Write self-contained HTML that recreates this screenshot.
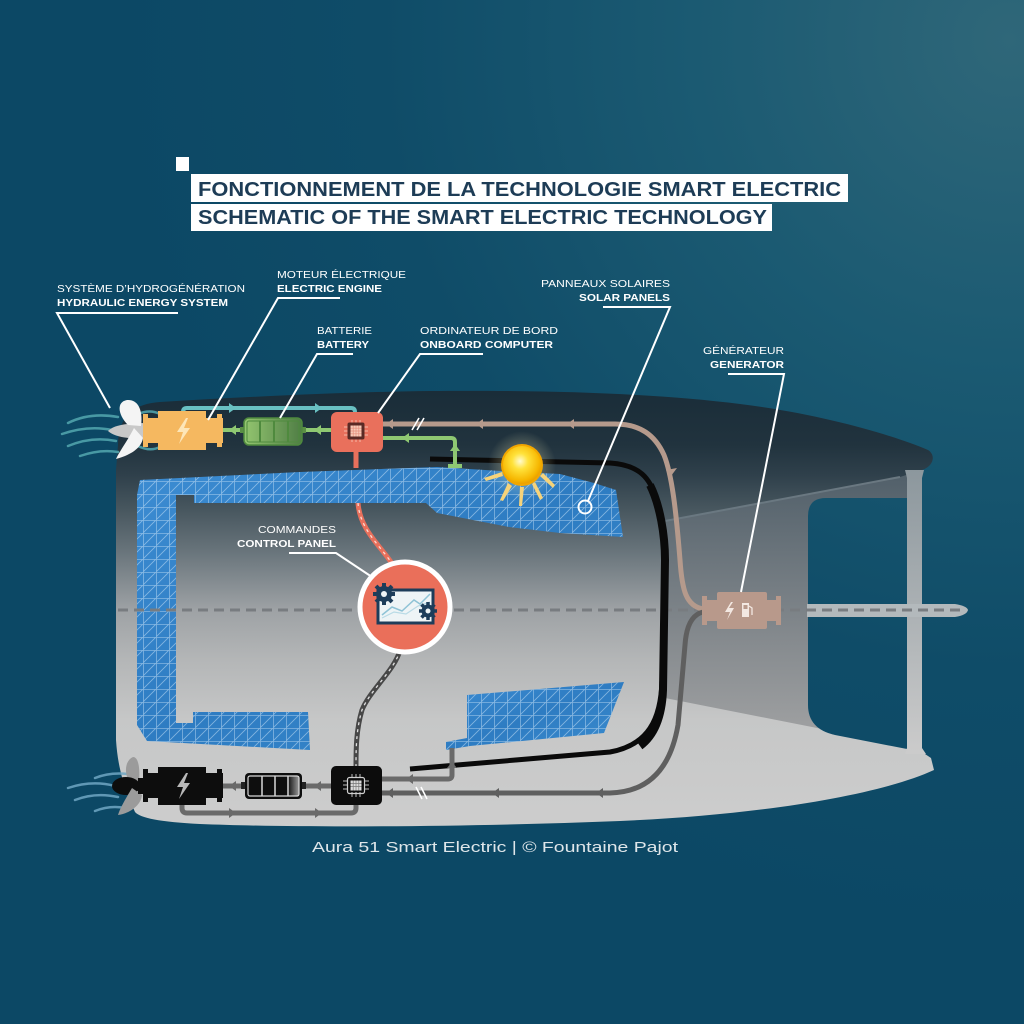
<!DOCTYPE html>
<html><head><meta charset="utf-8"><style>html,body{margin:0;padding:0;background:#0e4a66}svg{display:block}</style></head>
<body>
<svg width="1024" height="1024" viewBox="0 0 1024 1024" xmlns="http://www.w3.org/2000/svg" font-family="'Liberation Sans', sans-serif">
<defs>
<radialGradient id="bg" gradientUnits="userSpaceOnUse" cx="1010" cy="40" r="900">
 <stop offset="0" stop-color="#2f6779"/>
 <stop offset="0.35" stop-color="#1b5a72"/>
 <stop offset="0.7" stop-color="#0f4c68"/>
 <stop offset="1" stop-color="#0c4865"/>
</radialGradient>
<linearGradient id="hull" gradientUnits="userSpaceOnUse" x1="0" y1="393" x2="0" y2="830">
 <stop offset="0" stop-color="#1a2d39"/>
 <stop offset="0.119" stop-color="#21333e"/>
 <stop offset="0.188" stop-color="#2f404b"/>
 <stop offset="0.268" stop-color="#48575f"/>
 <stop offset="0.359" stop-color="#67737a"/>
 <stop offset="0.497" stop-color="#9ea2a5"/>
 <stop offset="0.611" stop-color="#b4b6b7"/>
 <stop offset="0.748" stop-color="#c6c7c7"/>
 <stop offset="1" stop-color="#cdcdcd"/>
</linearGradient>
<linearGradient id="side" gradientUnits="userSpaceOnUse" x1="0" y1="480" x2="0" y2="745">
 <stop offset="0" stop-color="#53616b"/>
 <stop offset="0.6" stop-color="#858a8e"/>
 <stop offset="1" stop-color="#a2a3a4"/>
</linearGradient>
<linearGradient id="pole" gradientUnits="userSpaceOnUse" x1="0" y1="470" x2="0" y2="752">
 <stop offset="0" stop-color="#8c979d"/>
 <stop offset="1" stop-color="#cbcbcb"/>
</linearGradient>
<linearGradient id="blue" x1="0" y1="0" x2="1" y2="1">
 <stop offset="0" stop-color="#3c8cd2"/>
 <stop offset="0.5" stop-color="#2e7cc2"/>
 <stop offset="1" stop-color="#3a8ccf"/>
</linearGradient>
<pattern id="grid" width="13" height="13" patternUnits="userSpaceOnUse">
 <path d="M0 0.4H13 M0.4 0V13 M0 13L13 0" stroke="#d8ecfb" stroke-opacity="0.5" stroke-width="0.8" fill="none"/>
</pattern>
<radialGradient id="sun" cx="0.45" cy="0.4" r="0.6">
 <stop offset="0" stop-color="#fffbd0"/>
 <stop offset="0.35" stop-color="#ffe23a"/>
 <stop offset="0.85" stop-color="#f6b600"/>
 <stop offset="1" stop-color="#eaa000"/>
</radialGradient>
<radialGradient id="glow">
 <stop offset="0" stop-color="#fff8c0" stop-opacity="0.5"/>
 <stop offset="1" stop-color="#fff8c0" stop-opacity="0"/>
</radialGradient>
<linearGradient id="batG" x1="0" y1="0" x2="1" y2="0">
 <stop offset="0" stop-color="#94c670"/>
 <stop offset="1" stop-color="#4f7d45"/>
</linearGradient>
<linearGradient id="batK" x1="0" y1="0" x2="1" y2="0">
 <stop offset="0" stop-color="#111"/>
 <stop offset="1" stop-color="#9a9a9a"/>
</linearGradient>
</defs>

<!-- background -->
<rect width="1024" height="1024" fill="url(#bg)"/>

<!-- title -->
<rect x="176" y="157" width="13" height="14" fill="#ffffff"/>
<rect x="191" y="174" width="657" height="28" fill="#ffffff"/>
<rect x="191" y="204" width="581" height="27" fill="#ffffff"/>
<text x="198" y="196" font-size="20" font-weight="bold" fill="#1d3c56" textLength="643" lengthAdjust="spacingAndGlyphs">FONCTIONNEMENT DE LA TECHNOLOGIE SMART ELECTRIC</text>
<text x="198" y="224" font-size="20" font-weight="bold" fill="#1d3c56" textLength="569" lengthAdjust="spacingAndGlyphs">SCHEMATIC OF THE SMART ELECTRIC TECHNOLOGY</text>

<!-- hull -->
<path d="M118 445 C118 420 130 404 160 402 C260 396 350 392 430 391 C560 390 660 394 740 404 C820 414 890 434 928 450 C936 455 934 466 922 470 L922 752 L931 758 L934 770 C880 795 760 815 620 821 C470 827 300 828 200 824 C160 822 140 818 135 812 C125 790 118 770 116 740 L116 470 Z" fill="url(#hull)"/>
<!-- side panel -->
<path d="M665 521 L900 477 L922 470 L922 752 L898 744 L665 698 Z" fill="url(#side)"/>
<path d="M665 521 L900 477" stroke="#6a7881" stroke-width="2" fill="none"/>
<!-- window -->
<path d="M808 516 Q808 498 826 498 L907 498 L907 749 L835 735 Q808 729 808 705 Z" fill="url(#bg)"/>
<!-- pole -->
<path d="M905 470 L924 470 L922 478 L922 748 L926 754 L905 754 L907 748 L907 478 Z" fill="url(#pole)"/>
<!-- beam -->
<path d="M807 604 L955 604 Q967 606 968 610 Q967 615 955 617 L807 617 Z" fill="#b3b9bc"/>

<!-- solar panels -->
<g>
<path d="M140 480 L300 472 L437 467 L501 471 L560 474 L594 483 L616 490 L623 537 L560 533 L509 527 L437 513 L426 503 L194 503 L194 495 L176 495 L176 723 L193 723 L193 712 L308 712 L310 750 L147 741 L137 725 L137 495 Z" fill="url(#blue)"/>
<path d="M140 480 L300 472 L437 467 L501 471 L560 474 L594 483 L616 490 L623 537 L560 533 L509 527 L437 513 L426 503 L194 503 L194 495 L176 495 L176 723 L193 723 L193 712 L308 712 L310 750 L147 741 L137 725 L137 495 Z" fill="url(#grid)"/>
<path d="M467 695 L624 682 L604 733 L470 746 L446 750 L446 742 L467 738 Z" fill="url(#blue)"/>
<path d="M467 695 L624 682 L604 733 L470 746 L446 750 L446 742 L467 738 Z" fill="url(#grid)"/>
</g>

<!-- dashed centre line -->
<path d="M118 610 H966" stroke="#787c80" stroke-width="3" stroke-dasharray="10 6" fill="none"/>

<!-- black inner line -->
<path d="M430 459 L610 463 C640 465 650 478 657 500 C663 520 664 540 664 560 L662 680 C661 720 648 745 610 752 L410 769" stroke="#0a0a0a" stroke-width="5" fill="none"/>
<path d="M650 485 C660 505 665 535 665 560 L663 690 C662 715 655 735 640 746" stroke="#0a0a0a" stroke-width="8" fill="none"/>

<!-- beige generator cable -->
<path d="M382 424 H615 C640 424 655 435 664 455 C672 475 676 510 680 560 C682 590 686 606 703 609" stroke="#b59a8c" stroke-width="5" fill="none"/>
<polygon points="386,424 393,419 393,429" fill="#b59a8c"/>
<polygon points="476,424 483,419 483,429" fill="#b59a8c"/>
<polygon points="567,424 574,419 574,429" fill="#b59a8c"/>
<polygon points="666,470 671,476 677,468" fill="#b59a8c"/>
<path d="M412 430 L419 418 M417 430 L424 418" stroke="#ffffff" stroke-width="1.6"/>

<!-- dark grey generator cable -->
<path d="M703 612 C690 615 686 630 685 645 L678 725 C672 760 655 792 610 793 L382 793" stroke="#5f5f5f" stroke-width="5" fill="none"/>
<polygon points="386,793 393,788 393,798" fill="#5f5f5f"/>
<polygon points="492,793 499,788 499,798" fill="#5f5f5f"/>
<polygon points="596,793 603,788 603,798" fill="#5f5f5f"/>
<path d="M416 787 L422 799 M421 787 L427 799" stroke="#ffffff" stroke-width="1.6"/>

<!-- bottom grey lines -->
<path d="M220 786 H245 M302 786 H331" stroke="#6a6a6a" stroke-width="5" fill="none"/>
<polygon points="229,786 236,781 236,791" fill="#6a6a6a"/>
<polygon points="314,786 321,781 321,791" fill="#6a6a6a"/>
<path d="M182 803 V808 Q182 813 187 813 H351 Q356 813 356 808 V805" stroke="#6a6a6a" stroke-width="5" fill="none"/>
<polygon points="236,813 229,808 229,818" fill="#6a6a6a"/>
<polygon points="322,813 315,808 315,818" fill="#6a6a6a"/>
<path d="M382 779 H448 Q452 779 452 775 V748" stroke="#6a6a6a" stroke-width="5" fill="none"/>
<polygon points="406,779 413,774 413,784" fill="#6a6a6a"/>
<polygon points="452,762 447,768 457,768" fill="#6a6a6a"/>

<!-- teal line -->
<path d="M183 412 V412 Q183 408 187 408 H351 Q355 408 355 412" stroke="#69c0c2" stroke-width="4" fill="none"/>
<polygon points="236,408 229,403 229,413" fill="#69c0c2"/>
<polygon points="322,408 315,403 315,413" fill="#69c0c2"/>

<!-- green lines -->
<path d="M220 430 H245 M301 430 H332" stroke="#8fc872" stroke-width="4" fill="none"/>
<polygon points="229,430 236,425 236,435" fill="#8fc872"/>
<polygon points="314,430 321,425 321,435" fill="#8fc872"/>
<path d="M382 438 H451 Q455 438 455 442 V466 M448 466 H462" stroke="#8fc872" stroke-width="4" fill="none"/>
<polygon points="402,438 409,433 409,443" fill="#8fc872"/>
<polygon points="455,444 450,451 460,451" fill="#8fc872"/>

<!-- red dashed line -->
<path d="M356 450 V468" stroke="#e8705c" stroke-width="5" fill="none"/>
<path d="M358 503 C360 530 380 545 393 565" stroke="#e8705c" stroke-width="5" fill="none"/>
<path d="M358 503 C360 530 380 545 393 565" stroke="#ffd9cf" stroke-width="1.3" stroke-dasharray="3 4" fill="none"/>

<!-- control panel dark cable -->
<path d="M400 650 C395 670 370 690 362 710 C356 730 356 750 356 767" stroke="#474747" stroke-width="5" fill="none"/>
<path d="M400 650 C395 670 370 690 362 710 C356 730 356 750 356 767" stroke="#e0e0e0" stroke-width="1.3" stroke-dasharray="3 4" fill="none"/>

<!-- generator -->
<g>
<rect x="702" y="600" width="79" height="21" fill="#b8998b"/>
<rect x="702" y="596" width="5" height="29" fill="#b8998b"/>
<rect x="776" y="596" width="5" height="29" fill="#b8998b"/>
<rect x="717" y="592" width="50" height="37" rx="2" fill="#b8998b"/>
<polygon points="731,602 725,612 730,612 727,620 734,608 729,608 733,602" fill="#f3e8e2"/>
<rect x="742" y="603" width="7" height="14" fill="#f3e8e2"/>
<rect x="743.5" y="605" width="4" height="4" fill="#b8998b"/>
<path d="M749 606 L752 608 V615" stroke="#f3e8e2" stroke-width="1.3" fill="none"/>
</g>

<!-- sun -->
<circle cx="522" cy="465" r="34" fill="url(#glow)"/>
<g fill="#f6d37a">
<polygon points="502,472 484,478 486,481 503,476"/>
<polygon points="508,483 500,500 503,501 512,486"/>
<polygon points="520,487 519,506 522,506 524,487"/>
<polygon points="532,484 540,500 543,498 535,482"/>
<polygon points="540,476 553,488 555,485 543,473"/>
</g>
<circle cx="522" cy="465" r="21" fill="#f2a600"/>
<circle cx="522" cy="465" r="19" fill="url(#sun)"/>

<!-- solar marker -->
<circle cx="585" cy="507" r="6.5" fill="none" stroke="#ffffff" stroke-width="2"/>

<!-- control panel -->
<circle cx="405" cy="607" r="45" fill="#ea6f5a" stroke="#ffffff" stroke-width="5"/>
<rect x="378" y="590" width="55" height="33" fill="#eef4f6" stroke="#1d3d5a" stroke-width="3"/>
<polyline points="382,615 392,607 402,611 414,600 420,604 430,594" fill="none" stroke="#8fc3d6" stroke-width="1.5"/>
<polyline points="382,618 394,612 406,614 418,606 430,602" fill="none" stroke="#b9dbe6" stroke-width="1.2"/>
<g fill="#1d3d5a">
<circle cx="384" cy="594" r="8"/>
<g stroke="#1d3d5a" stroke-width="4"><path d="M384 583 V605 M373 594 H395 M376 586 L392 602 M392 586 L376 602"/></g>
<circle cx="428" cy="611" r="6.5"/>
<g stroke="#1d3d5a" stroke-width="3.5"><path d="M428 602 V620 M419 611 H437 M421.5 604.5 L434.5 617.5 M434.5 604.5 L421.5 617.5"/></g>
</g>
<circle cx="384" cy="594" r="3" fill="#eef4f6"/>
<circle cx="428" cy="611" r="2.5" fill="#eef4f6"/>

<!-- top propeller & streaks -->
<g stroke="#4fa2ab" stroke-width="2.5" fill="none" stroke-linecap="round" opacity="0.9">
<path d="M68 423 Q90 412 118 417"/>
<path d="M62 434 Q88 425 112 430"/>
<path d="M68 446 Q92 436 116 441"/>
<path d="M80 456 Q100 449 118 452"/>
<path d="M138 414 Q150 409 160 414"/>
<path d="M138 446 Q150 452 160 447"/>
</g>
<path d="M108 431 Q115 423 145 423 L148 438 Q118 440 108 431 Z" fill="#c8c8c8"/>
<path d="M128 425 C118 415 116 402 127 400 C139 399 143 412 141 426 Z" fill="#f4f4f4"/>
<path d="M134 428 C128 440 119 452 116 459 C127 456 141 450 143 438 Z" fill="#f4f4f4"/>

<!-- top motor -->
<g fill="#f5b860">
<rect x="143" y="418" width="80" height="25"/>
<rect x="143" y="414" width="5" height="33"/>
<rect x="217" y="414" width="5" height="33"/>
<rect x="158" y="411" width="48" height="39"/>
</g>
<polygon points="186,418 177,432 183,432 179,444 190,428 184,428 188,418" fill="#fde6b8"/>

<!-- top battery -->
<rect x="240" y="427" width="6" height="6" fill="#5a8f45"/>
<rect x="300" y="427" width="6" height="6" fill="#5a8f45"/>
<rect x="244" y="418" width="58" height="27" rx="5" fill="url(#batG)" stroke="#4f8a3e" stroke-width="1.5"/>
<rect x="247" y="421" width="52" height="21" rx="2" fill="none" stroke="#4f8a3e" stroke-width="1"/>
<path d="M260 421 V442 M274 421 V442 M288 421 V442" stroke="#4f8a3e" stroke-width="2"/>

<!-- top computer -->
<rect x="331" y="412" width="52" height="40" rx="6" fill="#e9705c"/>
<g stroke="#f6b9a6" stroke-width="1">
<path d="M352 420 V424 M356 420 V424 M360 420 V424 M352 438 V442 M356 438 V442 M360 438 V442 M344 427 H348 M344 431 H348 M344 435 H348 M364 427 H368 M364 431 H368 M364 435 H368"/>
</g>
<rect x="347.5" y="422.5" width="17" height="17" rx="2" fill="#5a2a25"/>
<rect x="350.5" y="425.5" width="11" height="11" fill="#f7cbb8"/>
<path d="M353.2 425.5 V436.5 M356 425.5 V436.5 M358.8 425.5 V436.5 M350.5 428.2 H361.5 M350.5 431 H361.5 M350.5 433.8 H361.5" stroke="#e48f7c" stroke-width="0.7"/>

<!-- bottom propeller & streaks -->
<g stroke="#6fa7c3" stroke-width="2.5" fill="none" stroke-linecap="round" opacity="0.85">
<path d="M95 778 Q110 772 128 774"/>
<path d="M68 788 Q92 780 115 786"/>
<path d="M75 800 Q95 792 118 797"/>
<path d="M95 811 Q110 805 125 808"/>
</g>
<path d="M128 780 C124 770 126 760 133 757 C139 757 140 770 139 782 Z" fill="#9b9b9b"/>
<ellipse cx="126" cy="786" rx="14" ry="9" fill="#0d0d0d"/>
<path d="M132 788 C126 798 120 808 118 815 C128 814 141 806 142 795 Z" fill="#9b9b9b"/>

<!-- bottom motor -->
<g fill="#0d0d0d">
<rect x="138" y="778" width="10" height="16"/>
<rect x="143" y="773" width="80" height="25"/>
<rect x="143" y="769" width="5" height="33"/>
<rect x="217" y="769" width="5" height="33"/>
<rect x="158" y="767" width="48" height="38"/>
</g>
<polygon points="186,773 177,787 183,787 179,799 190,783 184,783 188,773" fill="#b8b8b8"/>

<!-- bottom battery -->
<rect x="241" y="782" width="6" height="7" fill="#222"/>
<rect x="300" y="782" width="6" height="7" fill="#222"/>
<rect x="245" y="773" width="57" height="26" rx="4" fill="#0e0e0e"/>
<rect x="288" y="776" width="11" height="20" fill="url(#batK)"/>
<rect x="248" y="776" width="51" height="20" rx="2" fill="none" stroke="#d8d8d8" stroke-width="1.2"/>
<path d="M262 776 V796 M275 776 V796 M288 776 V796" stroke="#d8d8d8" stroke-width="1.5"/>

<!-- bottom computer -->
<rect x="331" y="766" width="51" height="39" rx="5" fill="#0c0c0c"/>
<g stroke="#bdbdbd" stroke-width="1">
<path d="M352 774 V778 M356 774 V778 M360 774 V778 M352 792 V797 M356 792 V797 M360 792 V797 M343 781 H347 M343 785 H347 M343 789 H347 M365 781 H369 M365 785 H369 M365 789 H369"/>
</g>
<rect x="347.5" y="777.5" width="17" height="16" rx="2" fill="none" stroke="#cfcfcf" stroke-width="1.2"/>
<rect x="350.5" y="780.5" width="11" height="10" fill="#dcdcdc"/>
<path d="M353.2 780.5 V790.5 M356 780.5 V790.5 M358.8 780.5 V790.5 M350.5 783.5 H361.5 M350.5 786.5 H361.5" stroke="#777" stroke-width="0.7"/>

<!-- leader lines -->
<g stroke="#ffffff" stroke-width="2" fill="none">
<path d="M178 313 H57 L110 408"/>
<path d="M340 298 H278 L208 420"/>
<path d="M353 354 H317 L280 418"/>
<path d="M483 354 H420 L378 413"/>
<path d="M603 307 H670 L588 501"/>
<path d="M728 374 H784 L741 592"/>
<path d="M289 553 H336 L372 577"/>
</g>

<!-- labels -->
<g fill="#ffffff" font-size="10.5">
<text x="57" y="292" textLength="188" lengthAdjust="spacingAndGlyphs">SYSTÈME D’HYDROGÉNÉRATION</text>
<text x="57" y="306" font-weight="bold" textLength="171" lengthAdjust="spacingAndGlyphs">HYDRAULIC ENERGY SYSTEM</text>
<text x="277" y="278" textLength="129" lengthAdjust="spacingAndGlyphs">MOTEUR ÉLECTRIQUE</text>
<text x="277" y="292" font-weight="bold" textLength="105" lengthAdjust="spacingAndGlyphs">ELECTRIC ENGINE</text>
<text x="317" y="334" textLength="55" lengthAdjust="spacingAndGlyphs">BATTERIE</text>
<text x="317" y="348" font-weight="bold" textLength="52" lengthAdjust="spacingAndGlyphs">BATTERY</text>
<text x="420" y="334" textLength="138" lengthAdjust="spacingAndGlyphs">ORDINATEUR DE BORD</text>
<text x="420" y="348" font-weight="bold" textLength="133" lengthAdjust="spacingAndGlyphs">ONBOARD COMPUTER</text>
<text x="541" y="287" textLength="129" lengthAdjust="spacingAndGlyphs">PANNEAUX SOLAIRES</text>
<text x="579" y="301" font-weight="bold" textLength="91" lengthAdjust="spacingAndGlyphs">SOLAR PANELS</text>
<text x="703" y="354" textLength="81" lengthAdjust="spacingAndGlyphs">GÉNÉRATEUR</text>
<text x="710" y="368" font-weight="bold" textLength="74" lengthAdjust="spacingAndGlyphs">GENERATOR</text>
<text x="258" y="533" textLength="78" lengthAdjust="spacingAndGlyphs">COMMANDES</text>
<text x="237" y="547" font-weight="bold" textLength="99" lengthAdjust="spacingAndGlyphs">CONTROL PANEL</text>
</g>

<!-- caption -->
<text x="312" y="852" font-size="15" fill="#dfe6ea" textLength="366" lengthAdjust="spacingAndGlyphs">Aura 51 Smart Electric | © Fountaine Pajot</text>
</svg>
</body></html>
